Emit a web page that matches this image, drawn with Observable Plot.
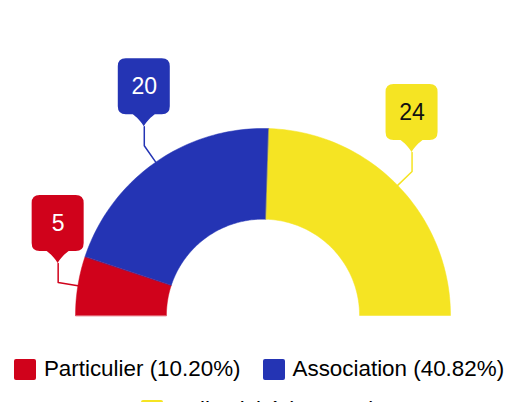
<!DOCTYPE html>
<html><head><meta charset="utf-8">
<script src="https://cdn.jsdelivr.net/npm/d3@7"></script>
<script src="https://cdn.jsdelivr.net/npm/@observablehq/plot@0.6"></script>
<style>
body{margin:0;background:#fff;font-family:Arial,"Liberation Sans",sans-serif;}
#chart svg{display:block;}
#legend{display:flex;flex-wrap:wrap;justify-content:center;column-gap:22px;row-gap:15px;width:507px;padding-left:11px;box-sizing:border-box;font-size:22.4px;line-height:26px;color:#000;}
.item{display:flex;align-items:center;gap:8px;white-space:nowrap;}
.sw{width:22px;height:21px;border-radius:2px;}
</style></head><body>
<div id="chart"></div><div id="legend"></div>
<script>
const categories = ["Particulier", "Association", "Collectivité"];
const values = [5, 20, 24];
const colors = ["#d0021b", "#2434b4", "#f5e423"];
const labelTextColors = ["#ffffff", "#ffffff", "#111111"];

const total = d3.sum(values);
const innerRatio = 0.515;
const kx = 187.5, ky = 187; // px per unit
const leadOut = 20 / kx, leadUp = 19 / ky;

// slice polygons computed from values
const slices = [];
let cum = 0;
values.forEach((v, i) => {
  const a0 = cum / total * Math.PI, a1 = (cum + v) / total * Math.PI;
  cum += v;
  const n = 60;
  for (let j = 0; j <= n; j++) { const a = a0 + (a1 - a0) * j / n; slices.push({cat: categories[i], x: -Math.cos(a), y: Math.sin(a)}); }
  for (let j = n; j >= 0; j--) { const a = a0 + (a1 - a0) * j / n; slices.push({cat: categories[i], x: -Math.cos(a) * innerRatio, y: Math.sin(a) * innerRatio}); }
});

// leader lines and label anchors
const leaders = [], labels = [];
cum = 0;
values.forEach((v, i) => {
  const am = (cum + v / 2) / total * Math.PI;
  cum += v;
  const p0 = {x: -Math.cos(am), y: Math.sin(am)};
  const p1 = {x: -Math.cos(am) * (1 + leadOut), y: Math.sin(am) * (1 + leadOut)};
  const p2 = {x: p1.x, y: p1.y + leadUp};
  [p0, p1, p2].forEach(p => leaders.push({cat: categories[i], ...p}));
  labels.push({cat: categories[i], value: values[i], x: p2.x, y: p2.y, fill: colors[i], text: labelTextColors[i]});
});

function callouts(index, scales) {
  const ns = "http://www.w3.org/2000/svg";
  const g = document.createElementNS(ns, "g");
  labels.forEach(d => {
    const px = scales.x(d.x), py = scales.y(d.y);
    const w = 26, b = py - 12, t = py - 68, r = 8;
    const p = `M${px},${py} C${px-2},${py-4} ${px-8},${py-10} ${px-11},${b} L${px-w+r},${b} Q${px-w},${b} ${px-w},${b-r} L${px-w},${t+r} Q${px-w},${t} ${px-w+r},${t} L${px+w-r},${t} Q${px+w},${t} ${px+w},${t+r} L${px+w},${b-r} Q${px+w},${b} ${px+w-r},${b} L${px+11},${b} C${px+8},${py-10} ${px+2},${py-4} ${px},${py} Z`;
    const path = document.createElementNS(ns, "path");
    path.setAttribute("d", p);
    path.setAttribute("fill", d.fill);
    g.appendChild(path);
  });
  return g;
}

const chart = Plot.plot({
  width: 507,
  height: 356,
  margin: 0,
  x: {domain: [-1, 1], range: [75, 450], axis: null},
  y: {domain: [0, 1], range: [315, 128], axis: null},
  color: {domain: categories, range: colors},
  style: {fontFamily: "Arial, 'Liberation Sans', sans-serif", background: "#fff"},
  marks: [
    Plot.line(slices, {x: "x", y: "y", z: "cat", fill: "cat", stroke: "cat", strokeWidth: 0.5, curve: "linear-closed"}),
    Plot.line(leaders, {x: "x", y: "y", z: "cat", stroke: "cat", strokeWidth: 1.5}),
    callouts,
    Plot.text(labels, {x: "x", y: "y", text: d => String(d.value), fill: d => d.text, dy: -40, fontSize: 23, textAnchor: "middle", lineAnchor: "middle"})
  ]
});
document.getElementById("chart").appendChild(chart);

const legend = document.getElementById("legend");
categories.forEach((c, i) => {
  const item = document.createElement("div");
  item.className = "item";
  const sw = document.createElement("span");
  sw.className = "sw";
  sw.style.background = colors[i];
  const tx = document.createElement("span");
  tx.textContent = `${c} (${(values[i] / total * 100).toFixed(2)}%)`;
  item.appendChild(sw); item.appendChild(tx);
  legend.appendChild(item);
});
</script>
</body></html>
